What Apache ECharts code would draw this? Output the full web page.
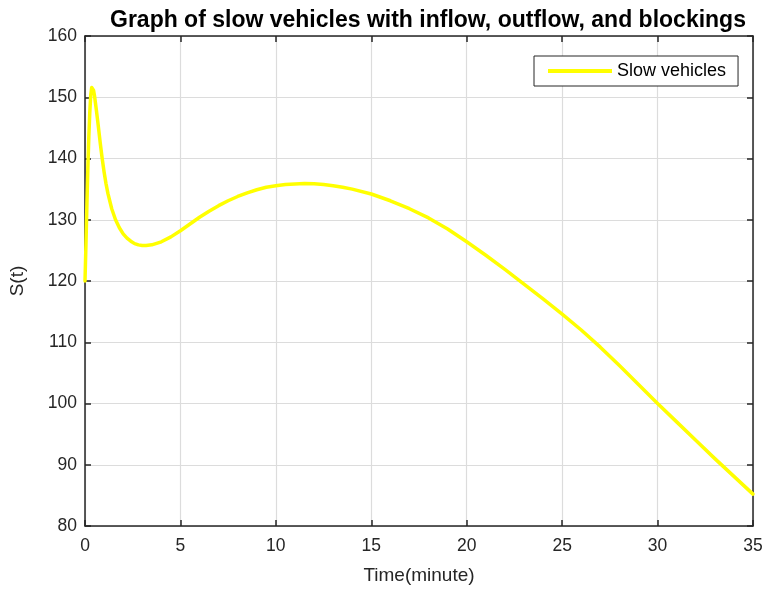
<!DOCTYPE html>
<html>
<head>
<meta charset="utf-8">
<script src="https://cdn.jsdelivr.net/npm/echarts@6/dist/echarts.min.js"></script>
<style>html,body{margin:0;padding:0;background:#fff}#c{width:769px;height:590px}</style>
</head>
<body>
<div id="c"></div>
<script>
var titleText = 'Graph of slow vehicles with inflow, outflow, and blockings';
var xName = 'Time(minute)';
var yName = 'S(t)';
var seriesName = 'Slow vehicles';
var timeValues = [0, 0.05, 0.1, 0.15, 0.2, 0.25, 0.3, 0.35, 0.4, 0.45, 0.5, 0.6, 0.7, 0.8, 0.9, 1.0, 1.1, 1.2, 1.4, 1.6, 1.8, 2.0, 2.2, 2.4, 2.6, 2.8, 3.0, 3.2, 3.5, 4.0, 4.5, 5, 5.5, 6, 6.5, 7, 7.5, 8, 8.5, 9, 9.5, 10, 10.5, 11, 11.5, 12, 12.5, 13, 13.5, 14, 15, 16, 17, 18, 19, 20, 21, 22, 23, 24, 25, 26, 27, 28, 29, 30, 31, 32, 33, 34, 35];
var slowValues = [120, 126, 132.5, 138.5, 143.5, 147.5, 150.3, 151.6, 151.7, 151.1, 150.2, 147.8, 145.2, 142.5, 140, 137.8, 135.9, 134.3, 131.8, 130.0, 128.7, 127.7, 127.0, 126.5, 126.1, 125.9, 125.8, 125.8, 125.9, 126.4, 127.2, 128.2, 129.3, 130.4, 131.4, 132.3, 133.1, 133.8, 134.4, 134.9, 135.3, 135.55, 135.75, 135.85, 135.9, 135.88, 135.75, 135.55, 135.3, 135.0, 134.2, 133.1, 131.8, 130.3, 128.5, 126.4, 124.2, 121.9, 119.5, 117.1, 114.6, 112.0, 109.2, 106.2, 103.1, 100, 97, 94, 91, 88.1, 85.2];
var xTicks = [0, 35, 5];
var yTicks = [80, 160, 10];

var data = timeValues.map(function (t, i) { return [t, slowValues[i]]; });
var font = 'Arial, "Liberation Sans", sans-serif';
var axisColor = '#262626';
var chart = echarts.init(document.getElementById('c'), null, {renderer: 'canvas'});
var baseX = {
  type: 'value', min: xTicks[0], max: xTicks[1], interval: xTicks[2],
  axisLine: {show: true, onZero: false, lineStyle: {color: axisColor, width: 1.5}},
  axisTick: {show: true, inside: true, length: 6, lineStyle: {color: axisColor, width: 1.5}},
  splitLine: {show: true, lineStyle: {color: '#dcdcdc', width: 1.2}}
};
var baseY = {
  type: 'value', min: yTicks[0], max: yTicks[1], interval: yTicks[2],
  axisLine: {show: true, onZero: false, lineStyle: {color: axisColor, width: 1.5}},
  axisTick: {show: true, inside: true, length: 6, lineStyle: {color: axisColor, width: 1.5}},
  splitLine: {show: true, lineStyle: {color: '#dcdcdc', width: 1.2}}
};
chart.setOption({
  animation: false,
  backgroundColor: '#ffffff',
  title: {
    text: titleText, left: 105, top: 4,
    textStyle: {fontFamily: font, fontWeight: 'bold', fontSize: 23, color: '#000'}
  },
  legend: {
    data: [seriesName], left: 534, top: 56,
    orient: 'vertical',
    backgroundColor: '#fff', borderColor: '#262626', borderWidth: 1,
    padding: [6, 12, 6, 14], itemWidth: 64, itemHeight: 4,
    textStyle: {fontFamily: font, fontSize: 18, color: '#000'},
    icon: 'rect'
  },
  grid: {left: 83, right: 16, top: 36, bottom: 64, containLabel: false},
  xAxis: [
    Object.assign({}, baseX, {
      position: 'bottom', name: xName, nameLocation: 'middle', nameGap: 40,
      nameTextStyle: {fontFamily: font, fontSize: 19, color: axisColor},
      axisLabel: {fontFamily: font, fontSize: 17.5, color: axisColor, margin: 11}
    }),
    Object.assign({}, baseX, {position: 'top', axisLabel: {show: false}, splitLine: {show: false}})
  ],
  yAxis: [
    Object.assign({}, baseY, {
      position: 'left', name: yName, nameLocation: 'middle', nameGap: 58, nameRotate: 90,
      nameTextStyle: {fontFamily: font, fontSize: 19, color: axisColor},
      axisLabel: {fontFamily: font, fontSize: 17.5, color: axisColor, margin: 8}
    }),
    Object.assign({}, baseY, {position: 'right', axisLabel: {show: false}, splitLine: {show: false}})
  ],
  series: [{
    name: seriesName, type: 'line', data: data, xAxisIndex: 0, yAxisIndex: 0,
    showSymbol: false, smooth: false,
    lineStyle: {color: '#ffff00', width: 3.5, join: 'round', cap: 'round'}, itemStyle: {color: '#ffff00'}
  }]
});
</script>
</body>
</html>
